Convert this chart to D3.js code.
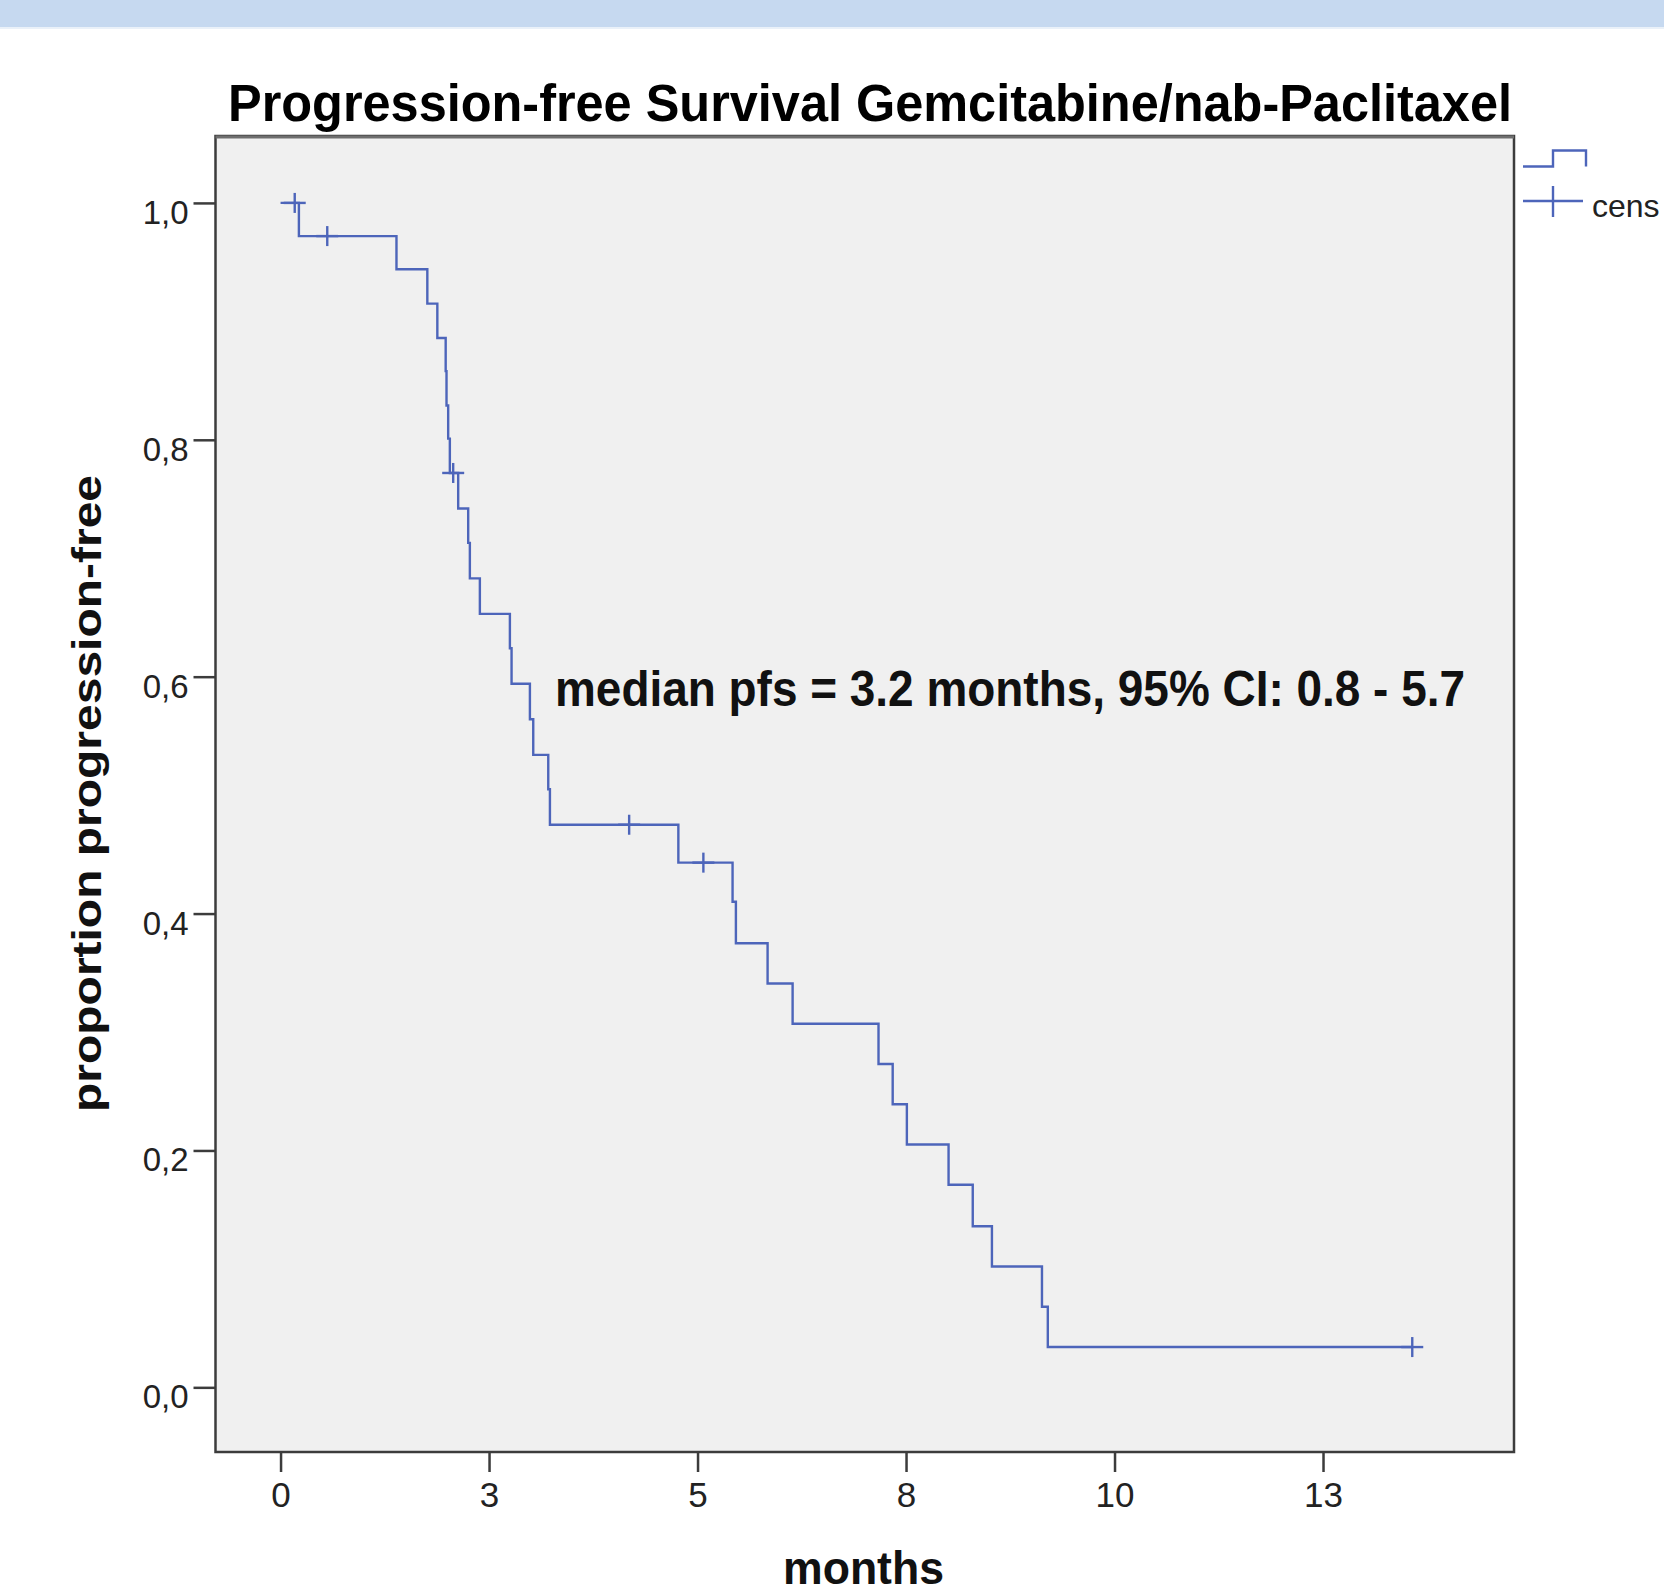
<!DOCTYPE html>
<html>
<head>
<meta charset="utf-8">
<script src="https://cdn.jsdelivr.net/npm/d3@7/dist/d3.min.js"></script>
<style>
  html, body { margin: 0; padding: 0; background: #fff; overflow: hidden; }
  svg { display: block; }
</style>
</head>
<body>
<div id="chart"></div>
<script>
// Kaplan-Meier steps (months, proportion progression-free)
const stepTimes = [0, 0.22, 1.39, 1.76, 1.88, 1.98, 1.99, 2.01, 2.03, 2.13, 2.25, 2.27, 2.39,
  2.75, 2.77, 2.99, 3.03, 3.21, 3.23, 4.77, 5.42, 5.46, 5.84, 6.14, 7.17, 7.34, 7.51,
  8.01, 8.30, 8.53, 9.13, 9.20, 13.57];
const stepValues = [1.0, 0.972, 0.944, 0.915, 0.886, 0.858, 0.829, 0.801, 0.772, 0.742, 0.713, 0.683, 0.653,
  0.624, 0.594, 0.564, 0.534, 0.505, 0.475, 0.443, 0.410, 0.375, 0.341, 0.307, 0.273, 0.239, 0.205,
  0.171, 0.136, 0.102, 0.068, 0.034, 0.034];

const censorTimes = [0.17, 0.56, 2.07, 4.18, 5.07, 13.57];
const censorValues = [1.0, 0.972, 0.772, 0.475, 0.443, 0.034];

const xTicks = [0, 2.5, 5, 7.5, 10, 12.5];
const xTickLabels = ["0", "3", "5", "8", "10", "13"];
const yTicks = [0, 0.2, 0.4, 0.6, 0.8, 1.0];
const yTickLabels = ["0,0", "0,2", "0,4", "0,6", "0,8", "1,0"];

const title = "Progression-free Survival Gemcitabine/nab-Paclitaxel";
const xTitle = "months";
const yTitle = "proportion progression-free";
const note = "median pfs = 3.2 months, 95% CI: 0.8 - 5.7";
const legendCensor = "cens"; // the rest runs off the picture's edge

const W = 1664, H = 1595;
const frame = { l: 215.5, r: 1514, t: 136, b: 1452 };
const FONT = "'Liberation Sans', Arial, Helvetica, sans-serif";
const blue = "#4d65ba";

const svg = d3.select("#chart").append("svg")
  .attr("width", W).attr("height", H)
  .style("font-family", FONT);

// header band
svg.append("rect").attr("x", 0).attr("y", 0).attr("width", W).attr("height", 27).attr("fill", "#c6d9f0");
svg.append("rect").attr("x", 0).attr("y", 27).attr("width", W).attr("height", 2).attr("fill", "#eaf1f9");

const x = d3.scaleLinear().domain([-0.78, 14.79]).range([frame.l, frame.r]);
const y = d3.scaleLinear().domain([-0.0546, 1.0565]).range([frame.b, frame.t]);

// plot area
svg.append("rect")
  .attr("x", frame.l).attr("y", frame.t)
  .attr("width", frame.r - frame.l).attr("height", frame.b - frame.t)
  .attr("fill", "#f0f0f0")
  .attr("stroke", "#3c3c3c").attr("stroke-width", 2.5);
svg.append("line")
  .attr("x1", frame.l).attr("x2", frame.r).attr("y1", frame.t + 1).attr("y2", frame.t + 1)
  .attr("stroke", "#6e6e6e").attr("stroke-width", 3);

// axes
const yAxis = d3.axisLeft(y).tickValues(yTicks).tickSize(22).tickPadding(5)
  .tickFormat((d, i) => yTickLabels[i]);
const gy = svg.append("g").attr("transform", `translate(${frame.l},0)`).call(yAxis);
gy.select(".domain").remove();
gy.selectAll(".tick line").attr("stroke", "#3c3c3c").attr("stroke-width", 2.5);
gy.selectAll(".tick text")
  .attr("font-family", FONT).attr("font-size", 33).attr("fill", "#222")
  .attr("dy", "0.62em");

const xAxis = d3.axisBottom(x).tickValues(xTicks).tickSize(20).tickPadding(10)
  .tickFormat((d, i) => xTickLabels[i]);
const gx = svg.append("g").attr("transform", `translate(0,${frame.b})`).call(xAxis);
gx.select(".domain").remove();
gx.selectAll(".tick line").attr("stroke", "#3c3c3c").attr("stroke-width", 2.5);
gx.selectAll(".tick text")
  .attr("font-family", FONT).attr("font-size", 35).attr("fill", "#222");

// survival step curve
const pts = stepTimes.map((t, i) => [t, stepValues[i]]);
const line = d3.line().x(d => x(d[0])).y(d => y(d[1])).curve(d3.curveStepAfter);
svg.append("path").datum(pts)
  .attr("fill", "none").attr("stroke", blue).attr("stroke-width", 2.4)
  .attr("d", line);

// censor marks
const cens = censorTimes.map((t, i) => [t, censorValues[i]]);
const cg = svg.append("g").attr("stroke", blue).attr("stroke-width", 2.4);
cg.selectAll("line.h").data(cens).join("line").attr("class", "h")
  .attr("x1", d => x(d[0]) - 11).attr("x2", d => x(d[0]) + 11)
  .attr("y1", d => y(d[1])).attr("y2", d => y(d[1]));
cg.selectAll("line.v").data(cens).join("line").attr("class", "v")
  .attr("x1", d => x(d[0])).attr("x2", d => x(d[0]))
  .attr("y1", d => y(d[1]) - 10).attr("y2", d => y(d[1]) + 10);

// texts
svg.append("text")
  .attr("x", 228).attr("y", 120.5)
  .attr("font-size", 51).attr("font-weight", "bold").attr("fill", "#000")
  .attr("textLength", 1284).attr("lengthAdjust", "spacingAndGlyphs")
  .text(title);

svg.append("text")
  .attr("x", 555).attr("y", 706)
  .attr("font-size", 50).attr("font-weight", "bold").attr("fill", "#111")
  .attr("textLength", 910).attr("lengthAdjust", "spacingAndGlyphs")
  .text(note);

svg.append("text")
  .attr("x", 783).attr("y", 1584)
  .attr("font-size", 46).attr("font-weight", "bold").attr("fill", "#111")
  .attr("textLength", 161).attr("lengthAdjust", "spacingAndGlyphs")
  .text(xTitle);

svg.append("text")
  .attr("transform", "translate(101,1112) rotate(-90)")
  .attr("x", 0).attr("y", 0)
  .attr("font-size", 40).attr("font-weight", "bold").attr("fill", "#111")
  .attr("textLength", 637).attr("lengthAdjust", "spacingAndGlyphs")
  .text(yTitle);

// legend
const lg = svg.append("g").attr("stroke", blue).attr("stroke-width", 2.4).attr("fill", "none");
const lx = frame.r + 9;
lg.append("path").attr("d", `M${lx},166.5 H${lx + 30} V150.5 H${lx + 63} V166.5`);
lg.append("line").attr("x1", lx).attr("x2", lx + 60).attr("y1", 201).attr("y2", 201);
lg.append("line").attr("x1", lx + 30).attr("x2", lx + 30).attr("y1", 186).attr("y2", 217);
svg.append("text")
  .attr("x", lx + 69).attr("y", 216.5)
  .attr("font-size", 32).attr("fill", "#222")
  .text(legendCensor);
</script>
</body>
</html>
